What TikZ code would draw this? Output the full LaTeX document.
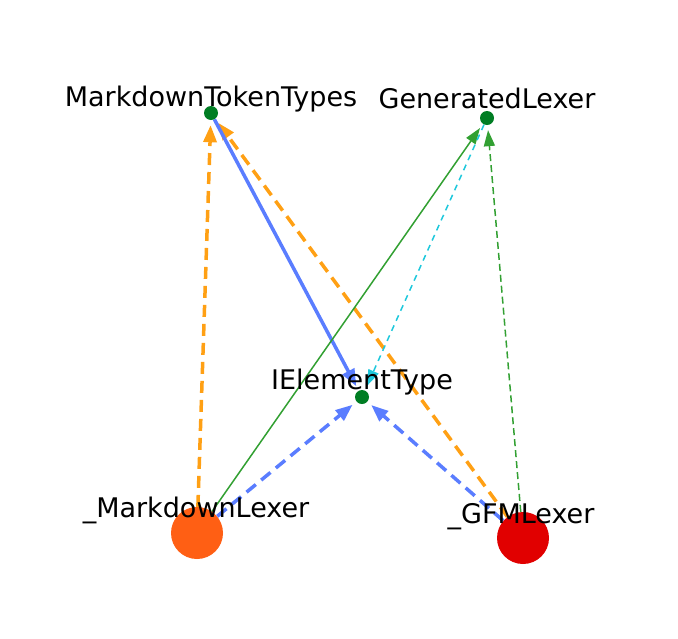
\documentclass[tikz,border=0pt]{standalone}
\usepackage{fontspec}
\setmainfont{DejaVu Sans}
\usetikzlibrary{arrows.meta,backgrounds}
\definecolor{edgeorange}{RGB}{255,160,20}
\definecolor{edgeblue}{RGB}{90,125,255}
\definecolor{edgegreen}{RGB}{50,160,50}
\definecolor{edgecyan}{RGB}{30,200,220}
\definecolor{dotgreen}{RGB}{0,125,35}
\definecolor{lexerorange}{RGB}{255,95,20}
\definecolor{lexerred}{RGB}{225,0,0}
\begin{document}
\begin{tikzpicture}[x=1pt,y=1pt]
\tikzstyle{every node}+=[inner sep=0pt]
\tikzstyle{typedot}=[circle,fill=dotgreen,minimum size=14pt]
\tikzstyle{lexer}=[circle,minimum size=52pt]
\tikzstyle{classname}=[anchor=base,font=\fontsize{27}{32}\selectfont]
\tikzstyle{thickdep}=[line width=3.5pt,dash pattern=on 12pt off 7pt,-{Triangle[length=17pt,width=13pt]},shorten >=5pt]
\tikzstyle{thindep}=[line width=1.5pt,-{Triangle[length=16pt,width=11pt]},shorten >=5pt]
\useasboundingbox (0,0) rectangle (678,-638);
\node [typedot] (mtt) at (211,-113) {};
\node [typedot] (genlexer) at (487,-118) {};
\node [typedot] (elemtype) at (362,-397) {};
\node [lexer,fill=lexerorange] (mdlexer) at (197,-533) {};
\node [lexer,fill=lexerred] (gfmlexer) at (523,-538) {};
\node [classname] (mttlabel) at (211,-106) {MarkdownTokenTypes};
\node [classname] (genlexerlabel) at (487,-108) {GeneratedLexer};
\node [classname] (elemtypelabel) at (362,-389) {IElementType};
\node [classname] (mdlexerlabel) at (196,-517) {\_MarkdownLexer};
\node [classname] (gfmlexerlabel) at (521,-523) {\_GFMLexer};
\begin{scope}[on background layer]
\draw [thickdep,edgeorange] (mdlexer) -- (mtt);
\draw [thickdep,edgeorange] (gfmlexer) -- (mtt);
\draw [thickdep,edgeblue,solid] (mtt) -- (elemtype);
\draw [thickdep,edgeblue] (mdlexer) -- (elemtype);
\draw [thickdep,edgeblue] (gfmlexer) -- (elemtype);
\draw [thindep,edgegreen] (mdlexer) -- (genlexer);
\draw [thindep,edgegreen,dash pattern=on 7pt off 4pt] (gfmlexer) -- (genlexer);
\draw [thindep,edgecyan,dash pattern=on 6pt off 5pt] (genlexer) -- (elemtype);
\end{scope}
\end{tikzpicture}
\end{document}
